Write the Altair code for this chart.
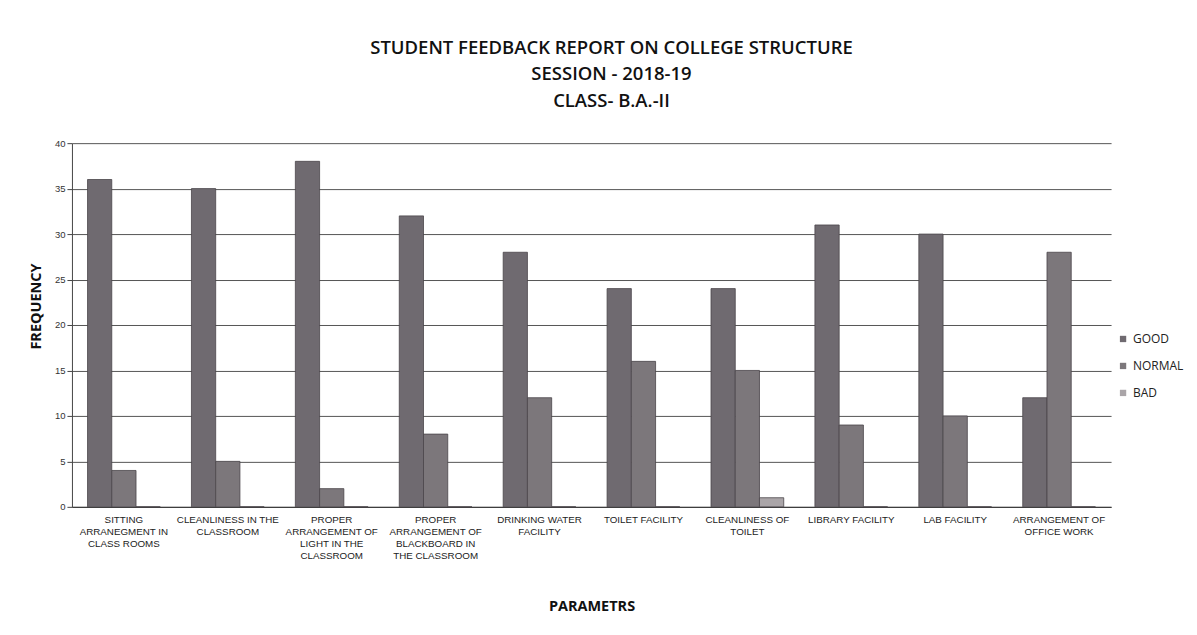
import altair as alt
import pandas as pd

categories = [
    "SITTING|ARRANEGMENT IN|CLASS ROOMS",
    "CLEANLINESS IN THE|CLASSROOM",
    "PROPER|ARRANGEMENT OF|LIGHT IN THE|CLASSROOM",
    "PROPER|ARRANGEMENT OF|BLACKBOARD IN|THE CLASSROOM",
    "DRINKING WATER|FACILITY",
    "TOILET FACILITY",
    "CLEANLINESS OF|TOILET",
    "LIBRARY FACILITY",
    "LAB FACILITY",
    "ARRANGEMENT OF|OFFICE WORK",
]
good = [36, 35, 38, 32, 28, 24, 24, 31, 30, 12]
normal = [4, 5, 2, 8, 12, 16, 15, 9, 10, 28]
bad = [0, 0, 0, 0, 0, 0, 1, 0, 0, 0]
series = ["GOOD", "NORMAL", "BAD"]
colors = ["#6f6a70", "#7c777b", "#aaa5a8"]

rows = []
for i, c in enumerate(categories):
    for s, vals in zip(series, [good, normal, bad]):
        rows.append({"param": c, "rating": s, "freq": vals[i]})
df = pd.DataFrame(rows)

chart = alt.Chart(df).mark_bar(stroke="#4a454a", strokeWidth=0.8).encode(
    x=alt.X("param:N", sort=categories,
            scale=alt.Scale(paddingInner=0.3, paddingOuter=0.15),
            axis=alt.Axis(title="PARAMETRS", labelAngle=0, labelExpr="split(datum.label, '|')",
                          labelFont="Liberation Sans", labelFontSize=9.8, labelColor="#222",
                          labelPadding=8, ticks=False, domainColor="#333",
                          titleFont="Open Sans", titleFontSize=14.5, titleFontWeight="bold",
                          titleColor="#111", titlePadding=39, labelLineHeight=12)),
    xOffset=alt.XOffset("rating:N", sort=series, scale=alt.Scale(paddingInner=0)),
    y=alt.Y("freq:Q", scale=alt.Scale(domain=[0, 40]),
            axis=alt.Axis(title="FREQUENCY", values=list(range(0, 41, 5)),
                          labelFont="Liberation Sans", labelFontSize=9.5, labelColor="#333",
                          tickColor="#444", tickSize=5, domainColor="#444",
                          gridColor="#555", gridWidth=1,
                          titleFont="Open Sans", titleFontSize=14.5, titleFontWeight="bold",
                          titleColor="#111", titlePadding=11, titleY=163)),
    color=alt.Color("rating:N", sort=series,
                    scale=alt.Scale(domain=series, range=colors),
                    legend=alt.Legend(title=None, orient="none", legendX=1046, legendY=190,
                                      symbolType="square", symbolSize=40,
                                      labelFont="Open Sans", labelFontSize=12,
                                      labelColor="#222", rowPadding=15,
                                      symbolStrokeWidth=0, padding=0)),
).properties(
    width=1040,
    height=364,
    title=alt.TitleParams(
        text=["STUDENT FEEDBACK REPORT ON COLLEGE STRUCTURE", "SESSION - 2018-19", "CLASS- B.A.-II"],
        font="Open Sans", fontSize=18.5, fontWeight=600, color="#111",
        lineHeight=26.5, anchor="middle", offset=28, dx=20),
    padding={"left": 20, "top": 30, "right": 5, "bottom": 5},
).configure_view(stroke=None)

chart.save("out.html", embed_options={"renderer": "svg", "actions": False})
